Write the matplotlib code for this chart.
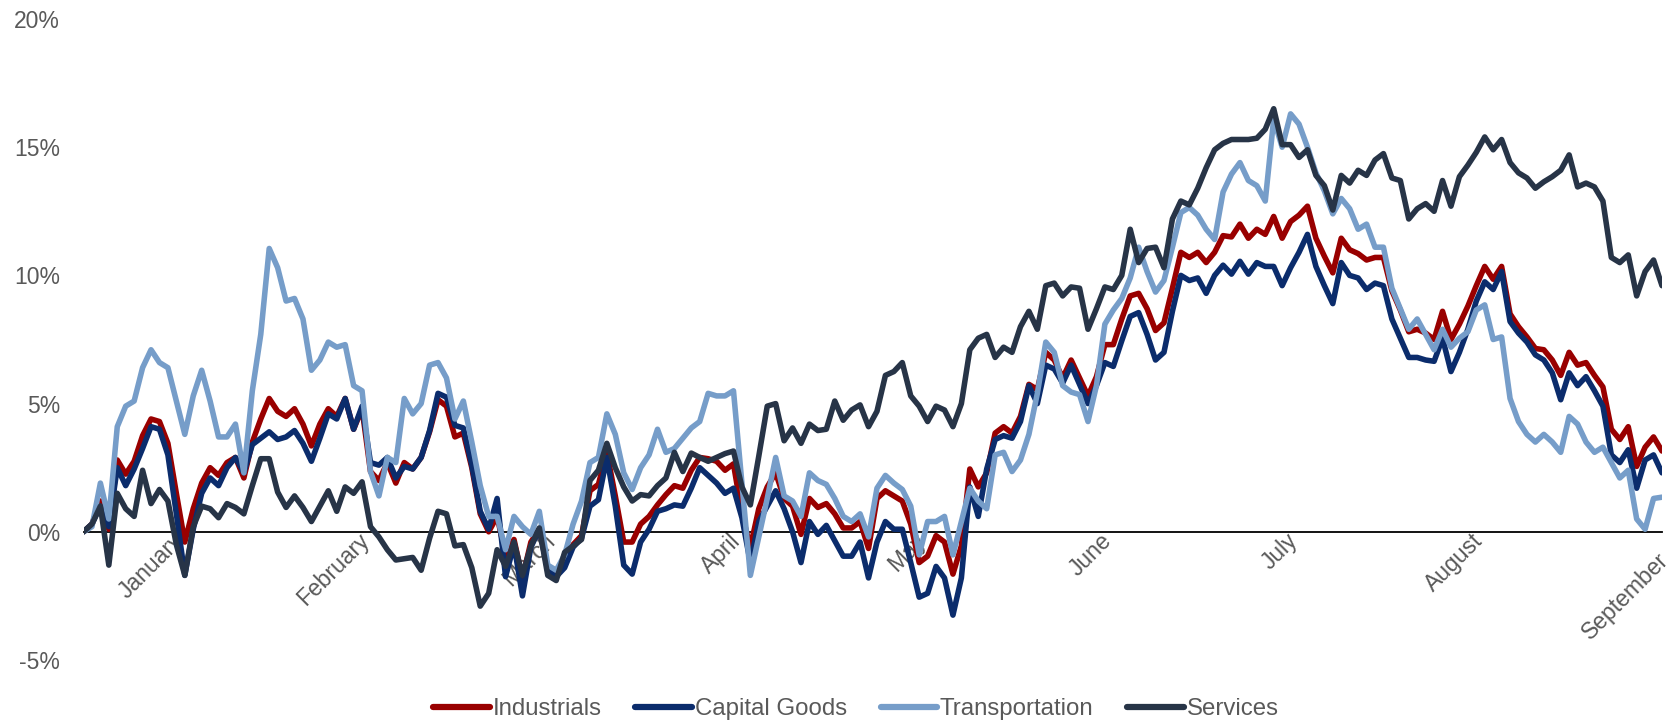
import matplotlib
matplotlib.use("Agg")
import matplotlib.pyplot as plt
from matplotlib.transforms import ScaledTranslation

# ---- data (cumulative return, %) ----
industrials = [
    0.0, 0.3, 1.2, 0.1, 2.8, 2.25, 2.75, 3.75, 4.4, 4.3,
    3.45, 1.5, -0.4, 0.9, 1.9, 2.5, 2.2, 2.7, 2.9, 2.1,
    3.5, 4.4, 5.2, 4.7, 4.5, 4.8, 4.2, 3.35, 4.2, 4.8,
    4.5, 5.2, 4.0, 4.8, 2.35, 2.0, 2.7, 1.9, 2.7, 2.45,
    2.9, 3.9, 5.15, 4.9, 3.7, 3.85, 2.5, 0.7, 0.0, 0.6,
    -0.9, -0.3, -1.8, -0.4, 0.1, -1.4, -1.75, -1.0, -0.5, -0.15,
    1.6, 1.85, 3.1, 1.4, -0.4, -0.4, 0.3, 0.6, 1.05, 1.45,
    1.8, 1.7, 2.4, 2.9, 2.85, 2.75, 2.4, 2.65, 0.7, -0.6,
    0.9, 1.75, 2.3, 1.3, 1.0, -0.1, 1.3, 0.95, 1.1, 0.7,
    0.15, 0.15, 0.4, -0.65, 1.3, 1.6, 1.4, 1.2, 0.3, -1.2,
    -0.95, -0.15, -0.4, -1.65, -0.55, 2.45, 1.75, 2.3, 3.85, 4.1,
    3.85, 4.5, 5.75, 5.55, 7.0, 6.7, 6.0, 6.7, 6.0, 5.3,
    6.05, 7.3, 7.3, 8.3, 9.2, 9.3, 8.7, 7.85, 8.15, 9.5,
    10.9, 10.7, 10.9, 10.5, 10.9, 11.55, 11.5, 12.0, 11.45, 11.8,
    11.6, 12.3, 11.45, 12.1, 12.35, 12.7, 11.45, 10.75, 10.1, 11.45,
    11.0, 10.85, 10.6, 10.7, 10.7, 9.4, 8.65, 7.8, 7.9, 7.75,
    7.5, 8.6, 7.5, 8.1, 8.8, 9.6, 10.35, 9.85, 10.35, 8.5,
    8.0, 7.6, 7.15, 7.1, 6.7, 6.1, 7.0, 6.5, 6.6, 6.1,
    5.65, 4.0, 3.6, 4.1, 2.55, 3.3, 3.7, 3.15,
]

capital_goods = [
    0.0, 0.3, 1.0, 0.2, 2.5, 1.8, 2.45, 3.25, 4.1, 4.0,
    3.0, 0.7, -1.7, 0.1, 1.5, 2.1, 1.8, 2.5, 2.9, 2.3,
    3.4, 3.65, 3.9, 3.6, 3.7, 3.95, 3.45, 2.75, 3.65, 4.6,
    4.4, 5.2, 4.0, 4.9, 2.7, 2.6, 2.9, 2.1, 2.55, 2.45,
    2.9, 3.95, 5.4, 5.25, 4.15, 4.05, 2.6, 0.8, 0.1, 1.3,
    -1.75, -0.5, -2.5, -0.6, 0.1, -1.5, -1.75, -1.4, -0.6, -0.25,
    1.0, 1.25, 2.9, 1.0, -1.3, -1.65, -0.4, 0.1, 0.8, 0.9,
    1.05, 1.0, 1.7, 2.5, 2.2, 1.9, 1.5, 1.7, 0.55, -1.2,
    0.4, 1.0, 1.6, 0.9, 0.0, -1.2, 0.4, -0.1, 0.25, -0.35,
    -0.95, -0.95, -0.4, -1.8, -0.4, 0.4, 0.1, 0.1, -1.2, -2.55,
    -2.4, -1.35, -1.8, -3.25, -1.8, 1.75, 0.6, 2.45, 3.6, 3.75,
    3.65, 4.3, 5.7, 5.0, 6.5, 6.35, 5.8, 6.5, 5.75, 5.0,
    5.7, 6.6, 6.45, 7.45, 8.4, 8.55, 7.7, 6.7, 7.0, 8.6,
    10.0, 9.8, 9.9, 9.3, 10.0, 10.4, 10.05, 10.55, 10.05, 10.5,
    10.35, 10.35, 9.6, 10.3, 10.9, 11.6, 10.35, 9.6, 8.9, 10.5,
    10.0, 9.9, 9.45, 9.7, 9.6, 8.3, 7.55, 6.8, 6.8, 6.7,
    6.65, 7.55, 6.25, 7.0, 7.9, 9.0, 9.75, 9.45, 10.15, 8.2,
    7.75, 7.4, 6.9, 6.7, 6.2, 5.15, 6.2, 5.7, 6.05, 5.5,
    4.9, 3.0, 2.7, 3.2, 1.7, 2.8, 3.0, 2.3,
]

transportation = [
    0.0, 0.2, 1.9, 0.5, 4.1, 4.9, 5.1, 6.4, 7.1, 6.6,
    6.4, 5.1, 3.8, 5.3, 6.3, 5.1, 3.7, 3.7, 4.2, 2.3,
    5.5, 7.7, 11.05, 10.3, 9.0, 9.1, 8.3, 6.3, 6.7, 7.4,
    7.2, 7.3, 5.7, 5.5, 2.35, 1.4, 2.9, 2.7, 5.2, 4.6,
    5.0, 6.5, 6.6, 6.0, 4.4, 5.1, 3.5, 1.8, 0.6, 0.6,
    -0.7, 0.6, 0.2, -0.1, 0.8, -1.3, -1.5, -0.9, 0.3, 1.2,
    2.7, 2.9, 4.6, 3.8, 2.3, 1.65, 2.5, 3.0, 4.0, 3.1,
    3.25, 3.65, 4.05, 4.3, 5.4, 5.3, 5.3, 5.5, 1.9, -1.7,
    -0.2, 1.3, 2.9, 1.4, 1.2, 0.6, 2.3, 2.0, 1.85, 1.3,
    0.6, 0.4, 0.7, -0.2, 1.7, 2.2, 1.9, 1.65, 1.0, -0.9,
    0.4, 0.4, 0.6, -0.9, 0.4, 1.7, 1.2, 0.9, 3.0, 3.1,
    2.35, 2.8, 3.8, 5.4, 7.4, 7.0, 5.7, 5.45, 5.35, 4.3,
    5.7, 8.1, 8.65, 9.1, 9.9, 11.1, 10.15, 9.35, 9.8, 11.1,
    12.45, 12.65, 12.35, 11.8, 11.4, 13.25, 13.95, 14.4, 13.7, 13.5,
    12.9, 16.1, 15.0, 16.3, 15.9, 15.0, 14.0, 13.3, 12.4, 13.0,
    12.6, 11.8, 12.0, 11.1, 11.1, 9.5, 8.7, 7.9, 8.3, 7.7,
    7.1, 7.9, 7.2, 7.55, 7.8, 8.65, 8.85, 7.5, 7.6, 5.2,
    4.3, 3.8, 3.5, 3.8, 3.5, 3.1, 4.5, 4.2, 3.5, 3.1,
    3.3, 2.7, 2.1, 2.4, 0.5, 0.1, 1.3, 1.35,
]

services = [
    0.0, 0.3, 1.0, -1.3, 1.5, 0.9, 0.6, 2.4, 1.1, 1.65,
    1.2, -0.5, -1.7, 0.2, 1.0, 0.9, 0.55, 1.1, 0.95, 0.7,
    1.8, 2.85, 2.85, 1.55, 0.95, 1.4, 0.95, 0.4, 1.0, 1.6,
    0.8, 1.75, 1.5, 1.95, 0.2, -0.2, -0.7, -1.1, -1.05, -1.0,
    -1.5, -0.25, 0.8, 0.7, -0.55, -0.5, -1.4, -2.9, -2.4, -0.7,
    -1.35, -0.4, -1.7, -0.55, 0.15, -1.7, -1.9, -0.8, -0.55, -0.3,
    2.0, 2.4, 3.45, 2.5, 1.75, 1.2, 1.45, 1.4, 1.8, 2.1,
    3.1, 2.35, 3.07, 2.9, 2.75, 2.9, 3.05, 3.15, 1.75, 1.05,
    2.95, 4.9, 5.0, 3.55, 4.05, 3.45, 4.2, 3.95, 4.0, 5.1,
    4.35, 4.75, 4.95, 4.1, 4.7, 6.1, 6.25, 6.6, 5.3, 4.9,
    4.3, 4.9, 4.75, 4.1, 5.0, 7.1, 7.55, 7.7, 6.8, 7.2,
    7.0, 8.0, 8.6, 7.9, 9.6, 9.7, 9.2, 9.55, 9.5, 7.9,
    8.7, 9.55, 9.45, 10.0, 11.8, 10.5, 11.05, 11.1, 10.3, 12.2,
    12.9, 12.75, 13.4, 14.2, 14.9, 15.15, 15.3, 15.3, 15.3, 15.35,
    15.7, 16.5, 15.1, 15.1, 14.6, 14.9, 13.9, 13.5, 12.55, 13.9,
    13.6, 14.1, 13.9, 14.5, 14.75, 13.8, 13.7, 12.2, 12.6, 12.8,
    12.5, 13.7, 12.7, 13.85, 14.3, 14.8, 15.4, 14.9, 15.3, 14.4,
    14.0, 13.8, 13.4, 13.65, 13.85, 14.1, 14.7, 13.45, 13.6, 13.45,
    12.9, 10.7, 10.5, 10.8, 9.2, 10.15, 10.6, 9.6,
]

series_names = ["Industrials", "Capital Goods", "Transportation", "Services"]
month_labels = ["January", "February", "March", "April", "May",
                "June", "July", "August", "September"]
y_ticks = [-5, 0, 5, 10, 15, 20]

# ---- style ----
colors = ["#990000", "#0b2c6c", "#769dc9", "#273447"]
text_color = "#595959"
plt.rcParams["font.family"] = ["Liberation Sans", "DejaVu Sans"]

n = len(industrials)
x = list(range(n))
first_label = 11
label_step = 22
tick_idx = [first_label + label_step * k for k in range(len(month_labels))]

fig = plt.figure(figsize=(16.79, 7.25), dpi=100)
ax = fig.add_axes([83.5 / 1679, 1 - 660 / 725, (1662 - 83.5) / 1679, (660 - 19) / 725])

lines = []
for vals, name, c in zip([industrials, capital_goods, transportation, services],
                         series_names, colors):
    ln, = ax.plot(x, vals, color=c, lw=4.0, label=name, zorder=3,
                  solid_joinstyle="round", solid_capstyle="round")
    lines.append(ln)

ax.set_xlim(0, n - 1)
ax.set_ylim(-5, 20)

for side in ["top", "right", "left"]:
    ax.spines[side].set_visible(False)
ax.spines["bottom"].set_position(("data", 0))
ax.spines["bottom"].set_color("black")
ax.spines["bottom"].set_linewidth(1.3)
ax.spines["bottom"].set_zorder(2)

ax.set_yticks(y_ticks)
ax.set_yticklabels([f"{v}%" for v in y_ticks])
ax.tick_params(axis="y", length=0, pad=17, labelsize=16.5, labelcolor=text_color)

ax.set_xticks(tick_idx)
ax.set_xticklabels(month_labels, rotation=45, ha="right", va="center",
                   rotation_mode="anchor")
ax.tick_params(axis="x", length=0, pad=4, labelsize=16.5, labelcolor=text_color)

# fine shifts of the rotated month labels (in points)
for i, lab in enumerate(ax.get_xticklabels()):
    if i == len(month_labels) - 1:
        dx, dy = 2.5, -14
    else:
        dx, dy = 2.5, 0
    lab.set_transform(lab.get_transform() +
                      ScaledTranslation(dx / 72, dy / 72, fig.dpi_scale_trans))

leg = fig.legend(handles=lines, labels=series_names, loc="center",
                 bbox_to_anchor=(856 / 1679, 1 - 709 / 725), ncol=4,
                 frameon=False, fontsize=17.3, handlelength=2.35,
                 handletextpad=0.12, columnspacing=1.4)
for t in leg.get_texts():
    t.set_color(text_color)
for h in leg.legend_handles:
    h.set_linewidth(4.5)

fig.savefig("out.png", dpi=100)
